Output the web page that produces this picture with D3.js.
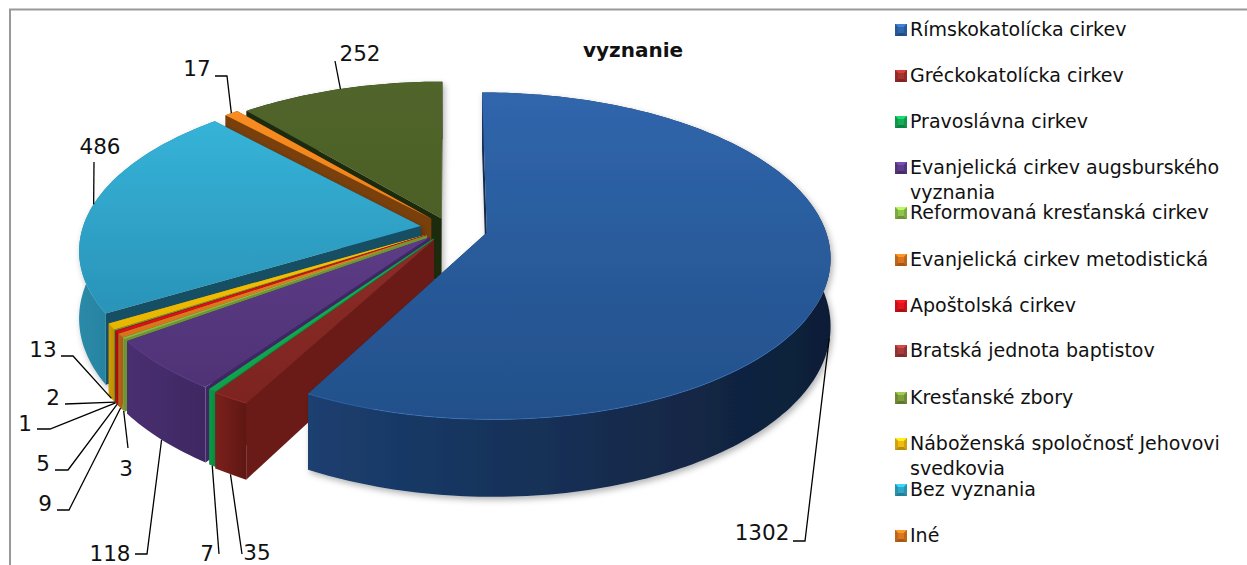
<!DOCTYPE html>
<html><head><meta charset="utf-8">
<script src="https://cdn.jsdelivr.net/npm/d3@7/dist/d3.min.js"></script>
<style>html,body{margin:0;padding:0;background:#fff;overflow:hidden}svg{display:block}text{font-family:"DejaVu Sans",sans-serif;fill:#111}</style>
</head><body><svg id="c" width="1247" height="565"></svg>
<script>
const categories=["Rímskokatolícka cirkev","Gréckokatolícka cirkev","Pravoslávna cirkev","Evanjelická cirkev augsburského vyznania","Reformovaná kresťanská cirkev","Evanjelická cirkev metodistická","Apoštolská cirkev","Bratská jednota baptistov","Kresťanské zbory","Náboženská spoločnosť Jehovovi svedkovia","Bez vyznania","Iné","Nezistené"];
const values=[1302,35,7,118,3,9,5,1,2,13,486,17,252];
const legendLines=[["Rímskokatolícka cirkev"],["Gréckokatolícka cirkev"],["Pravoslávna cirkev"],["Evanjelická cirkev augsburského","vyznania"],["Reformovaná kresťanská cirkev"],["Evanjelická cirkev metodistická"],["Apoštolská cirkev"],["Bratská jednota baptistov"],["Kresťanské zbory"],["Náboženská spoločnosť Jehovovi","svedkovia"],["Bez vyznania"],["Iné"]];
const legendY=[30,76,122,168,213,260,306,351,398,444,490,536];
const legendColors=["#2f66ad","#a8322e","#12ad55","#5e3d8c","#8fc34a","#d9761f","#e5141c","#a83a3a","#7f9f3c","#f0bb10","#2fa8c8","#d9761f"];
const topColors=[["#3066ac","#22508a"],["#8c2c28","#7d2420"],["#14b258","#0fa04d"],["#5c3c86","#4f3276"],["#9ad04f","#86b945"],["#e8821f","#d5741c"],["#ea1218","#d81015"],["#a83a3a","#933030"],["#86a83e","#769534"],["#f7c402","#e8b500"],["#36b3d8","#2a93b8"],["#f88c20","#ee8219"],["#50652a","#4c5f26"]];
const wallColors=[["#1b3f70","#0f1e36"],["#7c201c","#5e1713"],["#0c9a48","#0a8a3f"],["#4a2f70","#3e2762"],["#7ea63c","#6f9434"],["#b8641a","#a85a16"],["#b80c10","#a50a0e"],["#7a2626","#6d2020"],["#6b8830","#5f7a2a"],["#cc9c02","#bd9000"],["#2a8aa8","#1d6a85"],["#7a400c","#7a400c"],["#1d2a0d","#1d2a0d"]];
const cutColors=["#14294a","#6b1b17","#0a8a3f","#3e2762","#6f9434","#a85a16","#a50a0e","#6d2020","#5f7a2a","#bd9000","#144f63","#7a400c","#1d2a0d"];
const explode=[0.115,0.085,0.08,0.08,0.08,0.08,0.08,0.08,0.08,0.08,0.085,0.08,0.065];
const labelValues=values.map(String);
const labelDepth=[0.95,1,1,1,1,1,1,1,1,1,0,0,0];
const leaderElbows=[[[793,541],[805,541]],[[242,554]],[[219,554]],[[135,554],[147,554]],[[128,448]],[[57,510],[69,510]],[[55,470],[68,470]],[[37,429],[50,429]],[[65,404]],[[61,356],[73,356]],[[94,162]],[[215,76],[227,76]],[[335,61]]];
const labelPos=[[762,532],[257,552],[207,553],[110,553],[126,468],[45,503],[43,463],[25,423],[53,397],[43,349],[100,146],[197,68],[360,53]];

const svg=d3.select("#c");
const defs=svg.append("defs");
const R=338,k=0.47,d=7*R,h=66,Cx=449,Cy=228;
function proj(wx,wy,depth){const s=d/(d-wy);return [Cx+wx*s,Cy+wy*k*s+depth*h*s];}
const arcs=d3.pie().sort(null).value(v=>v)(values);
function off(a,i){const m=(a.startAngle+a.endAngle)/2;return [Math.sin(m)*explode[i]*R,-Math.cos(m)*explode[i]*R];}
function pt(a,i,th,r,depth){const o=off(a,i);return proj(o[0]+Math.sin(th)*r,o[1]-Math.cos(th)*r,depth);}
const line=d3.line();
function arcPts(a,i,depth){const n=Math.max(2,Math.ceil((a.endAngle-a.startAngle)/0.02));return d3.range(n+1).map(j=>pt(a,i,a.startAngle+(a.endAngle-a.startAngle)*j/n,R,depth));}
function grad(id,c,x2,y2){const g=defs.append("linearGradient").attr("id",id).attr("x1",0).attr("y1",0).attr("x2",x2).attr("y2",y2);g.append("stop").attr("offset",0).attr("stop-color",c[0]);g.append("stop").attr("offset",1).attr("stop-color",c[1]);}
const f=defs.append("filter").attr("id","sh").attr("x","-10%").attr("y","-10%").attr("width","120%").attr("height","125%");
f.append("feDropShadow").attr("dx",2).attr("dy",3).attr("stdDeviation",3).attr("flood-color","#000").attr("flood-opacity",0.3);

// frame
svg.append("path").attr("d","M10,565V9.5H1247").attr("fill","none").attr("stroke","#999").attr("stroke-width",2);

// pie, back to front
const order=[12,11,10,9,8,7,6,5,4,3,2,1,0];
const pie=svg.append("g");
order.forEach(i=>{
  const a=arcs[i];
  grad("t"+i,topColors[i],0,1);grad("w"+i,wallColors[i],1,0);
  const g=pie.append("g").attr("filter",(i==0||i==12||i==10)?"url(#sh)":null);
  const ap0=pt(a,i,0,0,0),ap1=pt(a,i,0,0,1);
  [a.startAngle,a.endAngle].forEach(th=>{
    const q0=pt(a,i,th,R,0),q1=pt(a,i,th,R,1);
    g.append("path").attr("d",line([ap0,q0,q1,ap1])+"Z").attr("fill",cutColors[i]);
  });
  const up=arcPts(a,i,0),lo=arcPts(a,i,1).reverse();
  g.append("path").attr("d",line(up.concat(lo))+"Z").attr("fill","url(#w"+i+")");
  g.append("path").attr("d",line([ap0].concat(up))+"Z").attr("fill","url(#t"+i+")");
  if(i==0||i==1||i==3||i==10) g.append("path").attr("d",line(up.filter(p=>p[1]>Cy+90))).attr("fill","none").attr("stroke",d3.color(topColors[i][0]).brighter(0.5)).attr("stroke-opacity",0.55).attr("stroke-width",1);
});

// leaders
arcs.forEach((a,i)=>{
  const m=(a.startAngle+a.endAngle)/2;
  const e=pt(a,i,m,R,labelDepth[i]);
  svg.append("path").attr("d",line(leaderElbows[i].concat([e]))).attr("fill","none").attr("stroke","#000").attr("stroke-width",1.3);
  svg.append("text").attr("x",labelPos[i][0]).attr("y",labelPos[i][1]).attr("text-anchor","middle").attr("font-size",21.5).attr("dy","0.36em").text(labelValues[i]);
});

// title
svg.append("text").attr("x",633).attr("y",57).attr("text-anchor","middle").attr("font-size",20).attr("font-weight","bold").text("vyznanie");

// legend
legendLines.forEach((ls,i)=>{
  const y=legendY[i];
  const c=d3.color(legendColors[i]);
  const gg=svg.append("g").attr("transform","translate(895,"+(y-6)+")");
  gg.append("rect").attr("width",12).attr("height",12).attr("fill",c.formatHex());
  gg.append("path").attr("d",line([[0,0],[12,0],[9,3],[3,3]])+"Z").attr("fill",c.brighter(0.7).formatHex());
  gg.append("path").attr("d",line([[0,12],[12,12],[9,9],[3,9]])+"Z").attr("fill",c.darker(0.8).formatHex());
  gg.append("path").attr("d",line([[0,0],[3,3],[3,9],[0,12]])+"Z").attr("fill",c.darker(0.4).formatHex());
  gg.append("path").attr("d",line([[12,0],[9,3],[9,9],[12,12]])+"Z").attr("fill",c.darker(0.4).formatHex());
  ls.forEach((t,j)=>svg.append("text").attr("x",910).attr("y",y+6+j*25).attr("font-size",19).text(t));
});
</script></body></html>
